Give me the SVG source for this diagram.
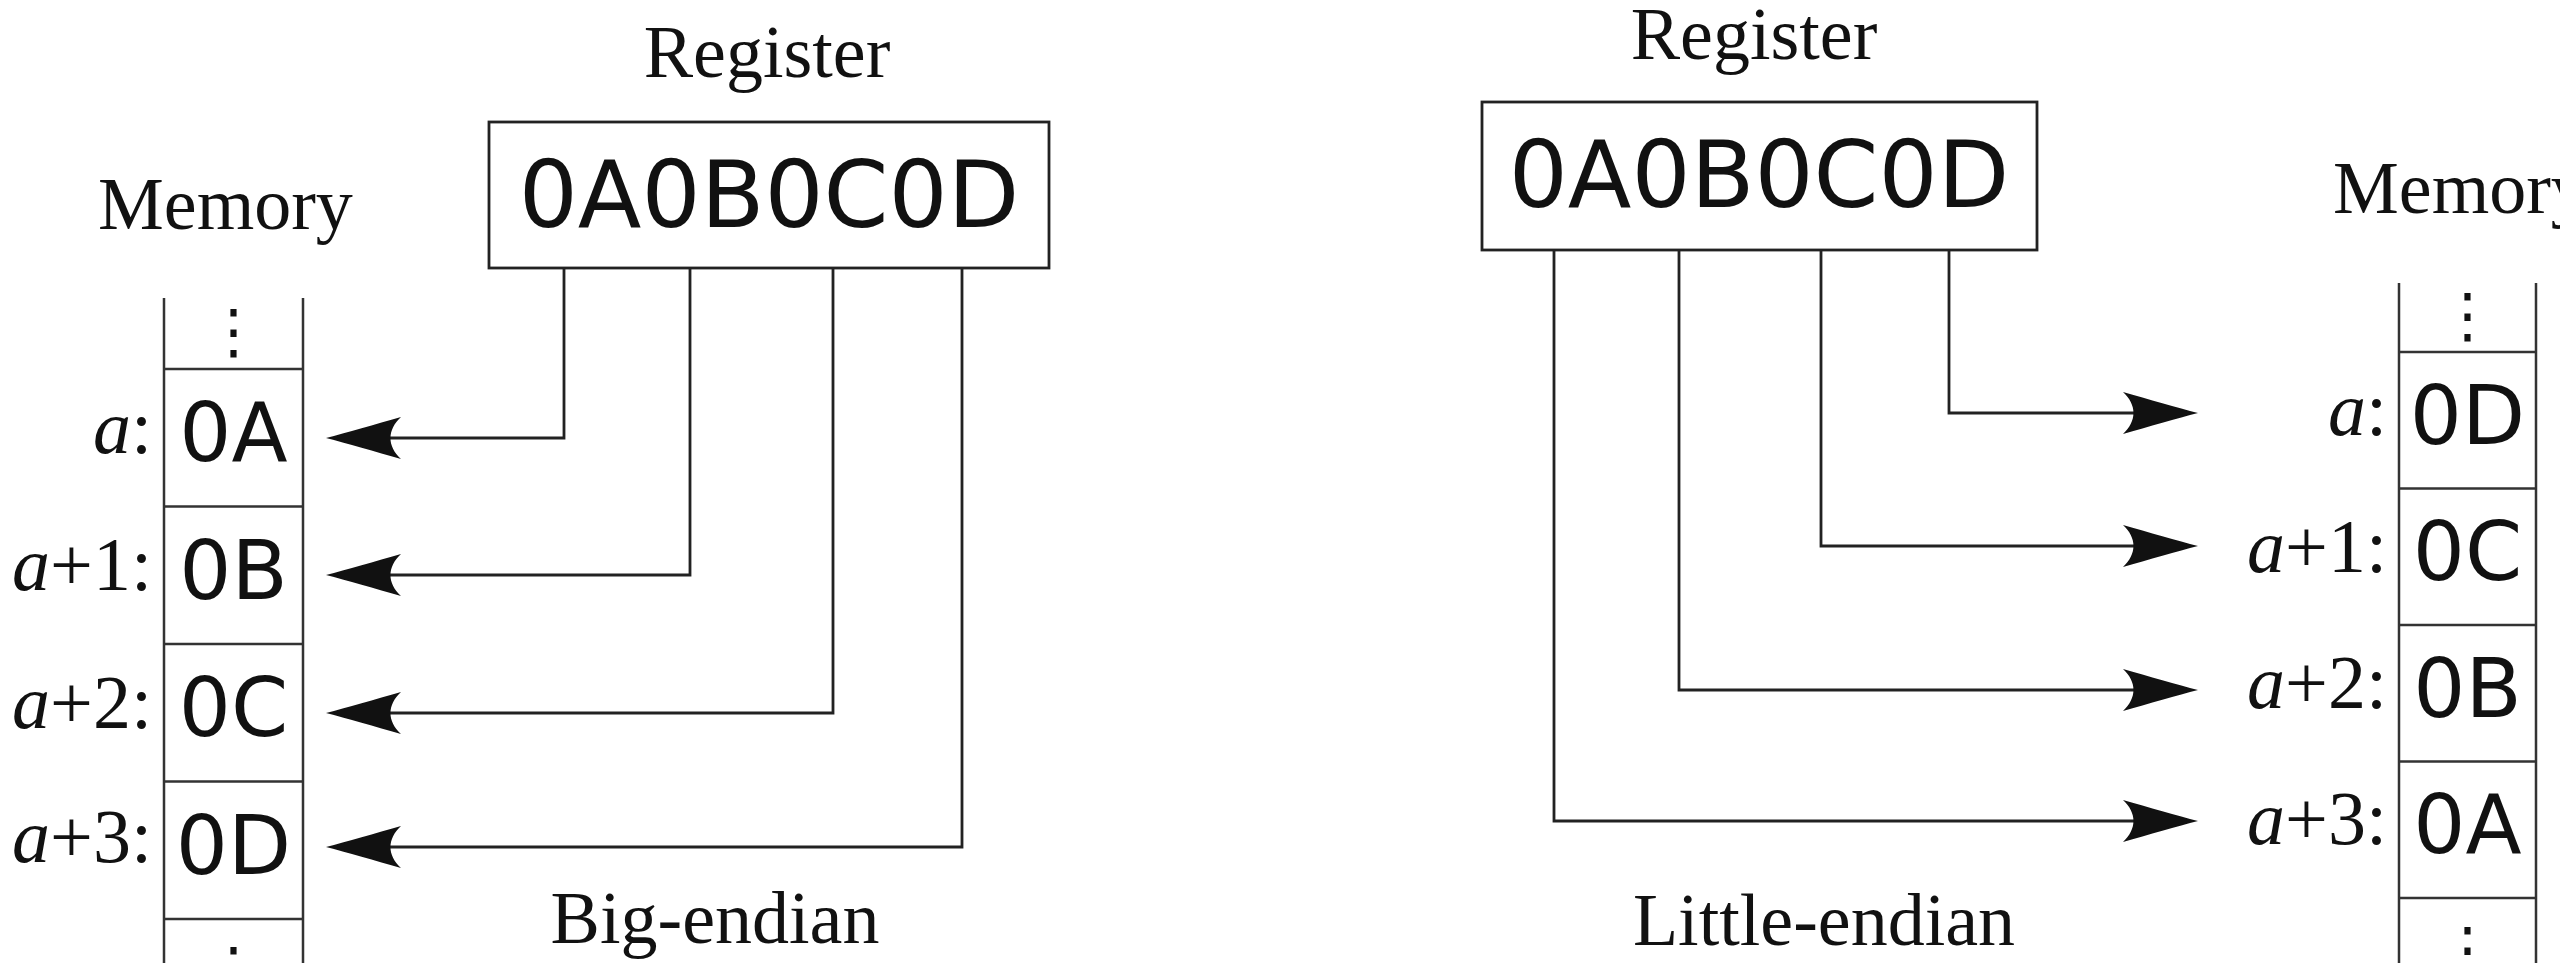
<svg xmlns="http://www.w3.org/2000/svg" width="2560" height="963" viewBox="0 0 2560 963">
<style>
.serif{font-family:"Liberation Serif","Times New Roman",serif;fill:#111}
.title{font-size:74px}
.lbl{font-size:76px;text-anchor:end}
.hex{font-family:"DejaVu Sans","Liberation Sans",sans-serif;fill:#111}
.reg{font-size:93px;text-anchor:middle}
.cell{font-size:82px;text-anchor:middle}
.dots{font-family:"DejaVu Sans",sans-serif;font-size:60px;text-anchor:middle;fill:#111}
.box{fill:none;stroke:#222;stroke-width:2.8}
.mem{fill:none;stroke:#333;stroke-width:2.5}
.wire{fill:none;stroke:#222;stroke-width:2.8}
</style>
<defs>
<marker id="head" viewBox="0 -22 76 44" markerUnits="userSpaceOnUse" markerWidth="76" markerHeight="44" refX="35" refY="0" orient="auto">
<path d="M75,0 C55,-5 25,-14 0,-21 C14,-8 14,8 0,21 C25,14 55,5 75,0 Z" fill="#111"/>
</marker>
</defs>
<rect width="2560" height="963" fill="#fff"/>

<g id="big-endian">
<g id="reg-left">
<text class="serif title" x="767" y="77" text-anchor="middle">Register</text>
<rect class="box" x="489" y="122" width="560" height="146"/>
<text class="hex reg" x="769" y="227">0A0B0C0D</text>
</g>
<g id="mem-left">
<text class="serif title" x="98" y="229">Memory</text>
<line class="mem" x1="164" y1="298" x2="164" y2="963"/>
<line class="mem" x1="303" y1="298" x2="303" y2="963"/>
<line class="mem" x1="164" y1="369" x2="303" y2="369"/>
<line class="mem" x1="164" y1="506.5" x2="303" y2="506.5"/>
<line class="mem" x1="164" y1="644" x2="303" y2="644"/>
<line class="mem" x1="164" y1="781.5" x2="303" y2="781.5"/>
<line class="mem" x1="164" y1="919" x2="303" y2="919"/>
<text class="dots" x="233.5" y="352">⋮</text>
<text class="dots" x="233.5" y="990">⋮</text>
<text class="hex cell" x="233.5" y="461">0A</text>
<text class="hex cell" x="233.5" y="599">0B</text>
<text class="hex cell" x="233.5" y="736">0C</text>
<text class="hex cell" x="233.5" y="874">0D</text>
<text class="serif lbl" x="152" y="453"><tspan font-style="italic">a</tspan>:</text>
<text class="serif lbl" x="152" y="590"><tspan font-style="italic">a</tspan>+1:</text>
<text class="serif lbl" x="152" y="728"><tspan font-style="italic">a</tspan>+2:</text>
<text class="serif lbl" x="152" y="862"><tspan font-style="italic">a</tspan>+3:</text>
</g>
<text id="cap-big" class="serif title" x="715" y="943" text-anchor="middle">Big-endian</text>
</g>

<g id="little-endian">
<g id="reg-right">
<text class="serif title" x="1754" y="59" text-anchor="middle">Register</text>
<rect class="box" x="1482" y="102" width="555" height="148"/>
<text class="hex reg" x="1759" y="207">0A0B0C0D</text>
</g>
<g id="mem-right">
<text class="serif title" x="2333" y="213">Memory</text>
<line class="mem" x1="2399" y1="283" x2="2399" y2="963"/>
<line class="mem" x1="2536" y1="283" x2="2536" y2="963"/>
<line class="mem" x1="2399" y1="352" x2="2536" y2="352"/>
<line class="mem" x1="2399" y1="488.5" x2="2536" y2="488.5"/>
<line class="mem" x1="2399" y1="625" x2="2536" y2="625"/>
<line class="mem" x1="2399" y1="761.5" x2="2536" y2="761.5"/>
<line class="mem" x1="2399" y1="898" x2="2536" y2="898"/>
<text class="dots" x="2467.5" y="336">⋮</text>
<text class="dots" x="2467.5" y="970">⋮</text>
<text class="hex cell" x="2467.5" y="443.5">0D</text>
<text class="hex cell" x="2467.5" y="580">0C</text>
<text class="hex cell" x="2467.5" y="716.5">0B</text>
<text class="hex cell" x="2467.5" y="853">0A</text>
<text class="serif lbl" x="2387" y="435"><tspan font-style="italic">a</tspan>:</text>
<text class="serif lbl" x="2387" y="572"><tspan font-style="italic">a</tspan>+1:</text>
<text class="serif lbl" x="2387" y="708"><tspan font-style="italic">a</tspan>+2:</text>
<text class="serif lbl" x="2387" y="844"><tspan font-style="italic">a</tspan>+3:</text>
</g>
<text id="cap-little" class="serif title" x="1824" y="945" text-anchor="middle">Little-endian</text>
</g>

<g id="connectors">
<path class="wire" d="M564,268 V438 H366" marker-end="url(#head)"/>
<path class="wire" d="M690,268 V575 H366" marker-end="url(#head)"/>
<path class="wire" d="M833,268 V713 H366" marker-end="url(#head)"/>
<path class="wire" d="M962,268 V847 H366" marker-end="url(#head)"/>
<path class="wire" d="M1949,250 V413 H2158" marker-end="url(#head)"/>
<path class="wire" d="M1821,250 V546 H2158" marker-end="url(#head)"/>
<path class="wire" d="M1679,250 V690 H2158" marker-end="url(#head)"/>
<path class="wire" d="M1554,250 V821 H2158" marker-end="url(#head)"/>
</g>
</svg>
